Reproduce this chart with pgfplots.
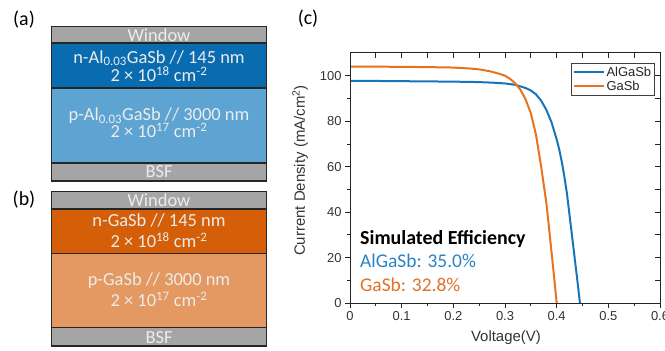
\documentclass[border=0pt]{standalone}
\usepackage{pgfplots}
\pgfplotsset{compat=1.18}
\usepackage{fontspec}
\setmainfont{Carlito}
\newfontfamily\arial{Liberation Sans}
\definecolor{winGray}{RGB}{165,165,165}
\definecolor{nBlue}{RGB}{10,108,176}
\definecolor{pBlue}{RGB}{94,164,210}
\definecolor{nOrange}{RGB}{212,95,8}
\definecolor{pOrange}{RGB}{227,153,97}
\definecolor{cBlue}{RGB}{24,116,184}
\definecolor{cOrange}{RGB}{232,114,32}
\definecolor{tBlue}{RGB}{40,132,200}
\definecolor{tOrange}{RGB}{226,112,40}
\definecolor{layText}{RGB}{236,236,236}
\begin{document}
\begin{tikzpicture}[x=1bp,y=1bp]
\useasboundingbox (0,0) rectangle (665,350);
% ---------- panel (a)
\def\L{51.7}\def\R{266.7}
\fill[winGray] (\L,323.3) rectangle (\R,307);
\fill[nBlue] (\L,307) rectangle (\R,262);
\fill[pBlue] (\L,262) rectangle (\R,187);
\fill[winGray] (\L,187) rectangle (\R,169);
\begin{scope}[every node/.style={text=layText,font=\fontsize{18.5}{18.5}\selectfont,anchor=base,inner sep=0pt}]
\begin{scope}\clip (\L,323.3) rectangle (\R,307);
\node at (159,309) {Window};\end{scope}
\node at (159,286.7) {n-Al\textsubscript{0.03}GaSb // 145 nm};
\node at (159,268.3) {2 × 10\textsuperscript{18} cm\textsuperscript{-2}};
\node at (159,229.3) {p-Al\textsubscript{0.03}GaSb // 3000 nm};
\node at (159,212.3) {2 × 10\textsuperscript{17} cm\textsuperscript{-2}};
\begin{scope}\clip (\L,187) rectangle (\R,169);
\node at (159,173) {BSF};\end{scope}
\end{scope}
\draw[line width=1.5bp,black!85] (\L,323.3) rectangle (\R,169);
\draw[line width=1.5bp,black!85] (\L,307) -- (\R,307) (\L,262) -- (\R,262) (\L,187) -- (\R,187);
% ---------- panel (b)
\fill[winGray] (\L,158.3) rectangle (\R,141);
\fill[nOrange] (\L,141) rectangle (\R,96.7);
\fill[pOrange] (\L,96.7) rectangle (\R,22.7);
\fill[winGray] (\L,22.7) rectangle (\R,4);
\begin{scope}[every node/.style={text=layText,font=\fontsize{18.5}{18.5}\selectfont,anchor=base,inner sep=0pt}]
\begin{scope}\clip (\L,158.3) rectangle (\R,141);
\node at (159,144) {Window};\end{scope}
\node at (159,124) {n-GaSb // 145 nm};
\node at (159,102.7) {2 × 10\textsuperscript{18} cm\textsuperscript{-2}};
\node at (159,65) {p-GaSb // 3000 nm};
\node at (159,43.3) {2 × 10\textsuperscript{17} cm\textsuperscript{-2}};
\begin{scope}\clip (\L,22.7) rectangle (\R,4);
\node at (159,7) {BSF};\end{scope}
\end{scope}
\draw[line width=1.5bp,black!85] (\L,158.3) rectangle (\R,4);
\draw[line width=1.5bp,black!85] (\L,141) -- (\R,141) (\L,96.7) -- (\R,96.7) (\L,22.7) -- (\R,22.7);
% panel labels
\node[font=\fontsize{20}{20}\selectfont] at (24,330.5) {(a)};
\node[font=\fontsize{20}{20}\selectfont] at (24,150.5) {(b)};
\node[font=\fontsize{20}{20}\selectfont] at (308,331.5) {(c)};
% ---------- panel (c)
\begin{axis}[
  at={(350bp,47bp)}, anchor=south west,
  scale only axis, width=310bp, height=250bp,
  xmin=0, xmax=0.6, ymin=0, ymax=110,
  xtick={0,0.1,0.2,0.3,0.4,0.5,0.6},
  xticklabels={0,0.1,0.2,0.3,0.4,0.5,0.6},
  ytick={0,20,40,60,80,100},
  minor x tick num=1, minor y tick num=1,
  tick align=outside, xtick pos=bottom, ytick pos=left,
  major tick length=5bp, minor tick length=3bp,
  every tick/.style={black!85, line width=0.8bp},
  axis line style={black!85, line width=1bp},
  tick label style={font=\arial\fontsize{13}{13}\selectfont, text=black!80},
  /pgf/number format/assume math mode=true,
  xlabel={Voltage(V)},
  ylabel={Current Density (mA/cm\textsuperscript{2})},
  label style={font=\arial\fontsize{15}{15}\selectfont, text=black!80},
  xlabel style={at={(axis description cs:0.503,-0.14)}, anchor=center},
  ylabel style={at={(axis description cs:-0.161,0.53)}, anchor=center},
  legend style={at={(axis description cs:0.984,0.96)}, anchor=north east,
    draw=black!75, line width=0.8bp, font=\arial\fontsize{13}{13}\selectfont,
    inner sep=1.5bp, row sep=-1bp, cells={anchor=west}, text=black!85},
  legend image code/.code={\draw[#1] (0bp,0bp) -- (30bp,0bp);},
]
\addplot[cBlue, line width=2bp] coordinates {
(0,97.7) (0.05,97.7) (0.1,97.6) (0.15,97.5) (0.2,97.4) (0.25,97.2) (0.28,96.9)
(0.30,96.6) (0.32,96.0) (0.34,94.6) (0.35,93.5) (0.36,91.8) (0.37,89.0)
(0.38,85.0) (0.39,79.5) (0.40,72.0) (0.405,67.5) (0.41,62.0) (0.415,55.5)
(0.42,48.0) (0.425,38.5) (0.43,29.0) (0.435,19.5) (0.44,10.0) (0.445,0)};
\addlegendentry{AlGaSb}
\addplot[cOrange, line width=2bp] coordinates {
(0,104.0) (0.05,104.0) (0.1,103.9) (0.15,103.8) (0.2,103.6) (0.23,103.2)
(0.25,102.8) (0.27,102.0) (0.29,100.8) (0.30,100.0) (0.31,98.6) (0.32,96.6)
(0.33,93.8) (0.34,89.5) (0.35,83.5) (0.36,74.0) (0.365,67.0) (0.37,60.0)
(0.375,52.0) (0.38,44.0) (0.385,33.5) (0.39,22.5) (0.395,11.5) (0.40,0)};
\addlegendentry{GaSb}
\end{axis}
\begin{axis}[
  at={(350bp,47bp)}, anchor=south west,
  scale only axis, width=310bp, height=250bp,
  xmin=0, xmax=0.6, ymin=0, ymax=110,
  xtick={0,0.1,0.2,0.3,0.4,0.5,0.6},
  ytick={0,20,40,60,80,100},
  minor x tick num=1, minor y tick num=1,
  tick align=inside, xtick pos=top, ytick pos=right,
  major tick length=5bp, minor tick length=5bp,
  every tick/.style={black!85, line width=0.8bp},
  axis line style={black!85, line width=1bp},
  xticklabels={}, yticklabels={},
]
\end{axis}
\node[anchor=base west, inner sep=0pt, font=\bfseries\fontsize{20}{20}\selectfont] at (360,106) {Simulated Efficiency};
\node[anchor=base west, inner sep=0pt, text=tBlue, font=\fontsize{19.5}{19.5}\selectfont] at (360,82.7) {AlGaSb: 35.0\%};
\node[anchor=base west, inner sep=0pt, text=tOrange, font=\fontsize{19.5}{19.5}\selectfont] at (360,59) {GaSb: 32.8\%};
\end{tikzpicture}
\end{document}
